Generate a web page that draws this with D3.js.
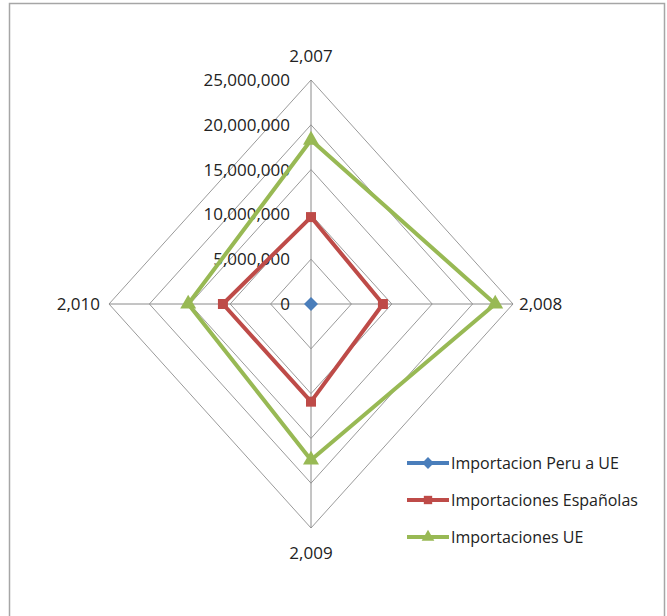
<!DOCTYPE html>
<html>
<head>
<meta charset="utf-8">
<script src="https://cdn.jsdelivr.net/npm/d3@7"></script>
<style>
  html, body { margin: 0; padding: 0; background: #fff; }
  svg { display: block; font-family: "Open Sans", "Liberation Sans", sans-serif; }
</style>
</head>
<body>
<div id="chart"></div>
<script>
// Radar chart data
const years = ['2,007', '2,008', '2,009', '2,010'];
const tickValues = [0, 5000000, 10000000, 15000000, 20000000, 25000000];
const peruUE = [30000, 30000, 30000, 30000];
const espanolas = [9700000, 8900000, 10900000, 10900000];
const importUE = [18300000, 22800000, 17400000, 15200000];

const seriesNames = ['Importacion Peru a UE', 'Importaciones Españolas', 'Importaciones UE'];
const seriesColors = ['#4a7ebb', '#be4b48', '#98b954'];
// diamond is drawn as a square turned 45 degrees
const seriesMarkers = [d3.symbolSquare, d3.symbolSquare, d3.symbolTriangle];
const markerRotate = [45, 0, 0];
const markerSizes = [85, 100, 110];
const seriesData = [peruUE, espanolas, importUE];

const width = 667, height = 616;
const cx = 311, cy = 304;
const rx = 202, ry = 224;

const svg = d3.select('#chart').append('svg')
    .attr('width', width)
    .attr('height', height);

// chart frame
svg.append('rect')
    .attr('x', 9.5).attr('y', 3.5)
    .attr('width', 655).attr('height', 640)
    .style('fill', 'none')
    .style('stroke', '#a6a6a6')
    .style('stroke-width', 1.5);

const rScale = d3.scaleLinear().domain([0, 25000000]).range([0, 1]);
const angle = d3.scalePoint().domain(d3.range(years.length)).range([0, 2 * Math.PI * (years.length - 1) / years.length]);

// point on the (stretched) radar
function pos(i, v) {
    const a = angle(i);
    const r = rScale(v);
    return [cx + Math.sin(a) * r * rx, cy - Math.cos(a) * r * ry];
}

const g = svg.append('g');

// rings
tickValues.slice(1).forEach(t => {
    const pts = years.map((_, i) => pos(i, t));
    g.append('path')
        .attr('d', d3.line()(pts) + 'Z')
        .style('fill', 'none')
        .style('stroke', '#9a9a9a')
        .style('stroke-width', 1);
});

// spokes
years.forEach((_, i) => {
    const [x, y] = pos(i, 25000000);
    g.append('line')
        .attr('x1', cx).attr('y1', cy)
        .attr('x2', x).attr('y2', y)
        .style('stroke', '#8a8a8a')
        .style('stroke-width', 1);
});

// tick labels along the top spoke
const fmt = d3.format(',');
tickValues.forEach(t => {
    const [, y] = pos(0, t);
    g.append('text')
        .attr('x', 290)
        .attr('y', y)
        .attr('dy', '0.35em')
        .attr('text-anchor', 'end')
        .style('font-size', '17px')
        .style('fill', '#222')
        .text(fmt(t));
});

// category labels
const catOffsets = [[0, -24, 'middle'], [6, 0, 'start'], [0, 25, 'middle'], [-9, 0, 'end']];
years.forEach((yr, i) => {
    const [x, y] = pos(i, 25000000);
    const o = catOffsets[i];
    g.append('text')
        .attr('x', x + o[0])
        .attr('y', y + o[1])
        .attr('dy', '0.35em')
        .attr('text-anchor', o[2])
        .style('font-size', '17px')
        .style('fill', '#222')
        .text(yr);
});

// series
seriesData.forEach((vals, s) => {
    const pts = vals.map((v, i) => pos(i, v));
    g.append('path')
        .attr('d', d3.line()(pts) + 'Z')
        .style('fill', 'none')
        .style('stroke', seriesColors[s])
        .style('stroke-width', 4)
        .style('stroke-linejoin', 'round');
    pts.forEach(p => {
        g.append('path')
            .attr('d', d3.symbol().type(seriesMarkers[s]).size(markerSizes[s])())
            .attr('transform', `translate(${p[0]},${p[1]}) rotate(${markerRotate[s]})`)
            .style('fill', seriesColors[s]);
    });
});

// legend
const legendY = [463, 500, 537];
seriesNames.forEach((name, s) => {
    const y = legendY[s];
    const lg = svg.append('g');
    lg.append('line')
        .attr('x1', 407).attr('x2', 449)
        .attr('y1', y).attr('y2', y)
        .style('stroke', seriesColors[s])
        .style('stroke-width', 4);
    lg.append('path')
        .attr('d', d3.symbol().type(seriesMarkers[s]).size(70)())
        .attr('transform', `translate(428,${y}) rotate(${markerRotate[s]})`)
        .style('fill', seriesColors[s]);
    lg.append('text')
        .attr('x', 451)
        .attr('y', y)
        .attr('dy', '0.35em')
        .style('font-size', '16px')
        .style('fill', '#222')
        .text(name);
});
</script>
</body>
</html>
